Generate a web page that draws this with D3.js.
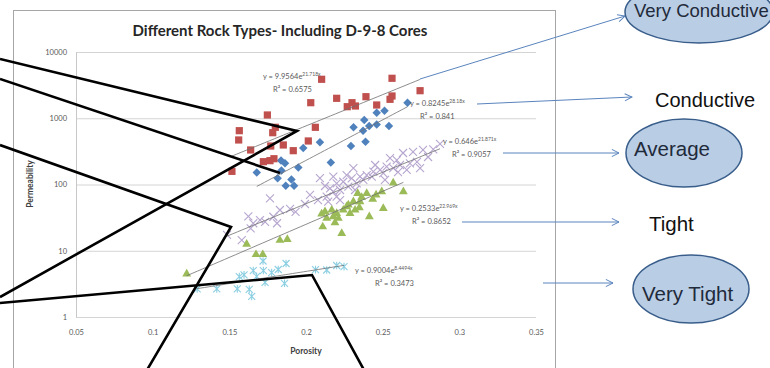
<!DOCTYPE html>
<html><head><meta charset="utf-8">
<script src="https://cdn.jsdelivr.net/npm/d3@7"></script>
<style>html,body{margin:0;padding:0;background:#fff;overflow:hidden}</style>
</head><body><svg id="c" width="770" height="368"></svg>
<script>
// ---------------- DATA ----------------
const xTicks = [0.05, 0.1, 0.15, 0.2, 0.25, 0.3, 0.35];
const yTicks = [1, 10, 100, 1000, 10000];
const rockTypes = ["Very Conductive", "Conductive", "Average", "Tight", "Very Tight"];

const veryConductivePor  = [0.1517,0.1561,0.1565,0.1639,0.1722,0.1748,0.1765,0.1770,0.1783,0.1791,0.1800,0.1852,0.1917,0.2015,0.2031,0.2061,0.2102,0.2200,0.2269,0.2300,0.2322,0.2391,0.2461,0.2548,0.2561,0.2561,0.2744];
const veryConductivePerm = [158,470,649,332,221,1120,229,381,605,245,730,395,324,454,1717,730,3873,2000,1494,1717,1531,2115,1585,1932,2168,4010,2606];

const conductivePor  = [0.1679,0.1837,0.1863,0.1840,0.1815,0.1905,0.1868,0.1922,0.1950,0.1982,0.2091,0.2162,0.2293,0.2310,0.2372,0.2388,0.2380,0.2412,0.2461,0.2461,0.2512,0.2541,0.2662];
const conductivePerm = [152,230,209,163,124,119,96,96,181,356,433,215,381,732,649,443,941,764,805,1213,1300,764,1717];

const averagePor  = [0.1485,0.1581,0.1624,0.1656,0.1700,0.1733,0.1765,0.1787,0.1811,0.1830,0.1932,0.1639,0.2091,0.2135,0.2145,0.2157,0.2178,0.2178,0.2200,0.2200,0.2222,0.2243,0.2276,0.2298,0.2309,0.2331,0.2352,0.2374,0.2396,0.2429,0.2439,0.2483,0.2504,0.2526,0.2569,0.2592,0.2613,0.2657,0.2678,0.2744,0.2830,0.2874,0.2548,0.2633,0.2698,0.2763,0.2796,0.2724,0.2600,0.2451,0.2515,0.2265,0.2222,0.2026,0.1993,0.1896,0.2078,0.2124,0.2320];
const averagePerm = [17.3,14.5,32.9,26,29.1,27.2,61.9,32.6,26,41.2,38.5,21.8,125,65.5,55,87.6,77.9,131,104,65.5,82.6,110,92.7,124,176,104,131,117,139,131,156,166,148,186,176,234,197,166,209,176,340,409,251,299,310,332,260,219,154,197,117,139,58.3,69.5,50.8,42.7,58.3,94.9,82.6];

const tightPor  = [0.1222,0.1613,0.1674,0.1718,0.1830,0.1878,0.2109,0.2102,0.2124,0.2135,0.2168,0.2178,0.2189,0.2200,0.2211,0.2233,0.2243,0.2265,0.2276,0.2287,0.2309,0.2320,0.2337,0.2348,0.2352,0.2363,0.2396,0.2413,0.2435,0.2457,0.2494,0.2504,0.2569,0.2635];
const tightPerm = [4.46,12.6,8.78,8.78,14.4,14.8,23,35.9,38.9,30.9,41.2,32.7,26.5,36.7,30.9,18.3,41.2,46.2,49.1,36.7,55,41.2,73.6,44.7,55,64.1,73.6,32.7,59.8,69.5,77.9,43.7,106,77.9];

const veryTightPor  = [0.1290,0.1418,0.1552,0.1630,0.1646,0.1565,0.1596,0.1656,0.1678,0.1722,0.1733,0.1720,0.1776,0.1819,0.1870,0.1860,0.2062,0.2135,0.2200,0.2248];
const veryTightPerm = [2.65,2.65,2.65,2.62,2.05,4.06,4.31,5.03,4.09,5.03,3.32,7.0,4.69,5.21,6.42,3.23,5.18,5.12,5.99,5.75];

// exponential trendlines y = a * e^(b x)
const trendA  = [9.9564, 0.8245, 0.646, 0.2533, 0.9004];
const trendB  = [21.718, 28.18, 21.871, 22.969, 8.4494];
const trendAText = ["9.9564", "0.8245", "0.646", "0.2533", "0.9004"];
const trendBText = ["21.718x", "28.18x", "21.871x", "22.969x", "8.4494x"];
const trendR2 = ["0.6575", "0.841", "0.9057", "0.8652", "0.3473"];

// ---------------- LAYOUT / STYLE ----------------
const W = 770, H = 368;
const plot = {l: 76, r: 536, t: 52, b: 317};
const colors = ["#c0504d", "#4f81bd", "#b7a6cf", "#9bbb59", "#8ccfe2"];
const labelPos = [ // equation label start x, baseline y, r2 x
  {x: 263, y: 79, rx: 273},
  {x: 410, y: 106, rx: 420},
  {x: 443, y: 144, rx: 452},
  {x: 400, y: 211, rx: 412},
  {x: 355, y: 273, rx: 375}
];
const arrows = [
  [[420, 79], [625, 16]],
  [[477, 104], [632, 97]],
  [[503, 153], [619, 153]],
  [[462, 222], [619, 222]],
  [[543, 283], [613, 283]]
];
const boxes = [ // category callouts
  {ell: true, cx: 699, cy: 12, rx: 74, ry: 31, tx: 634, ty: 17, fs: 18.5},
  {ell: false, tx: 655, ty: 107, fs: 20},
  {ell: true, cx: 684, cy: 153, rx: 58, ry: 34, tx: 634, ty: 156, fs: 20.5},
  {ell: false, tx: 649, ty: 231, fs: 20.5},
  {ell: true, cx: 691, cy: 289, rx: 58, ry: 34, tx: 642, ty: 301, fs: 20.5}
];
const blackLines = [
  [[0, 59], [297, 131], [0, 297]],
  [[0, 79], [280, 173]],
  [[0, 145], [231, 227], [147, 370]],
  [[0, 303], [312, 275], [364, 370]]
];

// ---------------- DRAW ----------------
const svg = d3.select("#c");
svg.append("rect").attr("width", W).attr("height", H).attr("fill", "#fff");

const x = d3.scaleLinear().domain([0.05, 0.35]).range([plot.l, plot.r]);
const y = d3.scaleLog().domain([1, 10000]).range([plot.b, plot.t]);

// chart area border
svg.append("rect").attr("x", 13.5).attr("y", 10.5).attr("width", 542).attr("height", 420)
  .attr("fill", "#fff").attr("stroke", "#a6a6a6").attr("stroke-width", 1);

// title
svg.append("text").attr("x", 280).attr("y", 36).attr("text-anchor", "middle")
  .attr("font-family", "Lato, 'Open Sans', sans-serif").attr("font-weight", "bold")
  .attr("font-size", 15).attr("fill", "#262626")
  .text("Different Rock Types- Including D-9-8 Cores");

// gridlines
const grid = svg.append("g").attr("transform", `translate(${plot.l},0)`)
  .call(d3.axisLeft(y).tickValues(yTicks).tickSize(-(plot.r - plot.l)).tickFormat(""));
grid.select(".domain").remove();
grid.selectAll("line").attr("stroke", "#d4d4d4");

// y axis
const ya = svg.append("g").attr("transform", `translate(${plot.l},0)`)
  .call(d3.axisLeft(y).tickValues(yTicks).tickSize(0).tickPadding(9).tickFormat(d3.format("d")));
ya.select(".domain").attr("stroke", "#c8c8c8");
ya.selectAll("text").attr("font-family", "Lato, sans-serif").attr("font-size", 7.5).attr("fill", "#595959");

// x axis
const xa = svg.append("g").attr("transform", `translate(0,${plot.b})`)
  .call(d3.axisBottom(x).tickValues(xTicks).tickSize(0).tickPadding(13).tickFormat(d => String(d)));
xa.select(".domain").remove();
xa.selectAll("text").attr("font-family", "Lato, sans-serif").attr("font-size", 7.5).attr("fill", "#595959");

// axis titles
svg.append("text").attr("transform", "translate(33,184) rotate(-90)").attr("text-anchor", "middle")
  .attr("font-family", "Lato, sans-serif").attr("font-weight", "bold").attr("font-size", 8.5).attr("fill", "#404040")
  .text("Permeability");
svg.append("text").attr("x", 306).attr("y", 354).attr("text-anchor", "middle")
  .attr("font-family", "Lato, sans-serif").attr("font-weight", "bold").attr("font-size", 8.5).attr("fill", "#404040")
  .text("Porosity");

// series
const series = [
  {por: veryConductivePor, perm: veryConductivePerm},
  {por: conductivePor, perm: conductivePerm},
  {por: averagePor, perm: averagePerm},
  {por: tightPor, perm: tightPerm},
  {por: veryTightPor, perm: veryTightPerm}
].map((s, i) => ({i, pts: s.por.map((p, j) => ({p, k: s.perm[j]}))}));

const starSymbol = {
  draw(ctx, size) {
    const r = Math.sqrt(size) / 2;
    ctx.moveTo(-r, -r); ctx.lineTo(r, r);
    ctx.moveTo(-r, r); ctx.lineTo(r, -r);
    ctx.moveTo(0, -r * 1.1); ctx.lineTo(0, r * 1.1);
  }
};
const xSymbol = {
  draw(ctx, size) {
    const r = Math.sqrt(size) / 2;
    ctx.moveTo(-r, -r); ctx.lineTo(r, r);
    ctx.moveTo(-r, r); ctx.lineTo(r, -r);
  }
};
const diamondSymbol = {
  draw(ctx, size) {
    const r = Math.sqrt(size) / 2;
    ctx.moveTo(0, -r); ctx.lineTo(r, 0); ctx.lineTo(0, r); ctx.lineTo(-r, 0); ctx.closePath();
  }
};

const gPts = svg.append("g");
// draw order: average (x), very tight, tight, conductive, very conductive
const order = [2, 4, 3, 1, 0];
order.forEach(i => {
  const s = series[i];
  const g = gPts.append("g");
  let sym, filled = true, size = 44;
  if (i === 0) { sym = d3.symbolSquare; size = 52; }
  if (i === 1) { sym = diamondSymbol; size = 72; }
  if (i === 2) { sym = xSymbol; filled = false; size = 64; }
  if (i === 3) { sym = d3.symbolTriangle; size = 34; }
  if (i === 4) { sym = starSymbol; filled = false; size = 49; }
  g.selectAll("path").data(s.pts).join("path")
    .attr("transform", d => `translate(${x(d.p)},${y(d.k)})`)
    .attr("d", d3.symbol(sym, size))
    .attr("fill", filled ? colors[i] : "none")
    .attr("stroke", filled ? "none" : colors[i])
    .attr("stroke-width", filled ? 0 : 1.1);
});

// trendlines
const line = d3.line().x(d => x(d[0])).y(d => y(d[1]));
series.forEach(s => {
  const [lo, hi] = d3.extent(s.pts, d => d.p);
  const a = trendA[s.i], b = trendB[s.i];
  const samples = d3.range(0, 41).map(t => { const p = lo + (hi - lo) * t / 40; return [p, a * Math.exp(b * p)]; });
  svg.append("path").attr("d", line(samples)).attr("fill", "none")
    .attr("stroke", "#6e6e6e").attr("stroke-width", 0.8);
});

// trend labels
series.forEach(s => {
  const lp = labelPos[s.i];
  const t = svg.append("text").attr("x", lp.x).attr("y", lp.y)
    .attr("font-family", "Lato, sans-serif").attr("font-size", 7.5).attr("fill", "#595959");
  t.append("tspan").text(`y = ${trendAText[s.i]}e`);
  t.append("tspan").attr("font-size", 5).attr("dy", -3).text(trendBText[s.i]);
  svg.append("text").attr("x", lp.rx).attr("y", lp.y + 13)
    .attr("font-family", "Lato, sans-serif").attr("font-size", 7.5).attr("fill", "#595959")
    .text(`R² = ${trendR2[s.i]}`);
});

// arrows
const defs = svg.append("defs");
defs.append("marker").attr("id", "ah").attr("viewBox", "0 0 10 10").attr("refX", 9).attr("refY", 5)
  .attr("markerWidth", 9).attr("markerHeight", 9).attr("markerUnits", "userSpaceOnUse").attr("orient", "auto")
  .append("path").attr("d", "M1,1 L9,5 L1,9").attr("fill", "none").attr("stroke", "#5a84bd").attr("stroke-width", 1.1);
arrows.forEach(a => {
  svg.append("line").attr("x1", a[0][0]).attr("y1", a[0][1]).attr("x2", a[1][0]).attr("y2", a[1][1])
    .attr("stroke", "#5a84bd").attr("stroke-width", 1).attr("marker-end", "url(#ah)");
});

// callouts
boxes.forEach((b, i) => {
  if (b.ell) {
    svg.append("ellipse").attr("cx", b.cx).attr("cy", b.cy).attr("rx", b.rx).attr("ry", b.ry)
      .attr("fill", "#b9cde5").attr("stroke", "#385d8a").attr("stroke-width", 1.5);
  }
  svg.append("text").attr("x", b.tx).attr("y", b.ty)
    .attr("font-family", "'Liberation Sans', Arial, sans-serif").attr("font-size", b.fs)
    .attr("fill", b.ell ? "#1f2a3a" : "#111").text(rockTypes[i]);
});

// black annotation lines
blackLines.forEach(pl => {
  svg.append("path").attr("d", d3.line()(pl)).attr("fill", "none")
    .attr("stroke", "#000").attr("stroke-width", 2.6).attr("stroke-linejoin", "miter");
});
</script>
</body></html>
